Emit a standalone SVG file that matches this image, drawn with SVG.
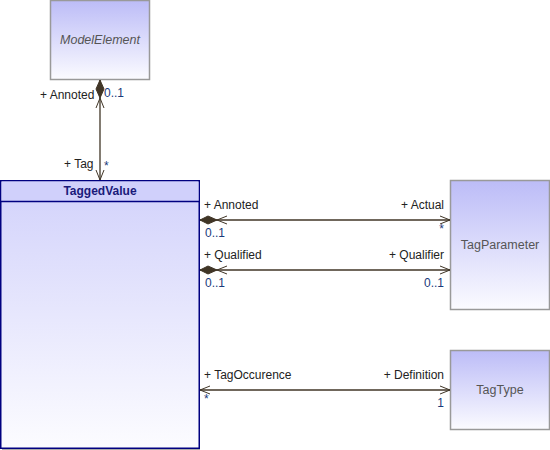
<svg xmlns="http://www.w3.org/2000/svg" width="550" height="450" viewBox="0 0 550 450">
<defs>
<linearGradient id="g1" x1="0" y1="0" x2="0" y2="1"><stop offset="0" stop-color="#bcbcf7"/><stop offset="1" stop-color="#fbfbff"/></linearGradient>
<linearGradient id="g2" x1="0" y1="0" x2="0" y2="1"><stop offset="0" stop-color="#d2d2fb"/><stop offset="1" stop-color="#fcfcff"/></linearGradient>
<style>
.cls{stroke:#999;stroke-width:1.5;fill:url(#g1)}
.nm{font-family:"Liberation Sans",Arial,sans-serif;font-size:12.5px;fill:#555;text-anchor:middle}
.role{font-family:"Liberation Sans",Arial,sans-serif;font-size:12px;fill:#222}
.mul{font-family:"Liberation Sans",Arial,sans-serif;font-size:12px;fill:#1a3a7a}
.ln{stroke:#403526;stroke-width:1.3;fill:none}
.dm{fill:#403526;stroke:#403526}
.ar{stroke:#403526;stroke-width:1;fill:none}
</style>
</defs>
<g id="ModelElement">
<rect class="cls" x="50.5" y="0.5" width="99" height="79"/>
<text class="nm" x="100" y="44" font-style="italic">ModelElement</text>
</g>
<g id="TaggedValue">
<rect x="2" y="448" width="198" height="2" fill="#aaa"/>
<rect x="0.75" y="180.75" width="198.5" height="267.5" fill="url(#g2)" stroke="#000080" stroke-width="1.5"/>
<rect x="1.5" y="181.5" width="197" height="20" fill="#d0d0fb"/>
<line x1="0" y1="201.5" x2="200" y2="201.5" stroke="#000080" stroke-width="1.3"/>
<text x="100" y="195" text-anchor="middle" font-family="'Liberation Sans',Arial,sans-serif" font-size="12" font-weight="bold" fill="#1a1a7a">TaggedValue</text>
</g>
<g id="TagParameter">
<rect class="cls" x="450.5" y="180.5" width="99" height="129"/>
<text class="nm" x="500" y="249">TagParameter</text>
</g>
<g id="TagType">
<rect class="cls" x="450.5" y="350.5" width="99" height="79"/>
<text class="nm" x="500" y="394">TagType</text>
</g>
<g id="connectors">
<line class="ln" x1="100" y1="80" x2="100" y2="180"/>
<path class="dm" d="M100,80 L104,89 L100,98 L96,89 Z"/>
<path class="ar" d="M96,108 L100,98 L104,108"/>
<path class="ar" d="M96,170 L100,180 L104,170"/>
<text class="role" x="40" y="99">+ Annoted</text>
<text class="mul" x="104" y="97">0..1</text>
<text class="role" x="64" y="168">+ Tag</text>
<text class="mul" x="104" y="170">*</text>

<line class="ln" x1="200" y1="220" x2="450" y2="220"/>
<path class="dm" d="M200,220 L208,216 L217,220 L208,224 Z"/>
<path class="ar" d="M227,216 L217,220 L227,224"/>
<path class="ar" d="M440,216 L450,220 L440,224"/>
<text class="role" x="204" y="209">+ Annoted</text>
<text class="role" x="444" y="209" text-anchor="end">+ Actual</text>
<text class="mul" x="205" y="237">0..1</text>
<text class="mul" x="444" y="233" text-anchor="end">*</text>

<line class="ln" x1="200" y1="270" x2="450" y2="270"/>
<path class="dm" d="M200,270 L208,266 L217,270 L208,274 Z"/>
<path class="ar" d="M227,266 L217,270 L227,274"/>
<path class="ar" d="M440,266 L450,270 L440,274"/>
<text class="role" x="204" y="259">+ Qualified</text>
<text class="role" x="444" y="259" text-anchor="end">+ Qualifier</text>
<text class="mul" x="205" y="287">0..1</text>
<text class="mul" x="444" y="287" text-anchor="end">0..1</text>

<line class="ln" x1="200" y1="390" x2="450" y2="390"/>
<path class="ar" d="M210,386 L200,390 L210,394"/>
<path class="ar" d="M440,386 L450,390 L440,394"/>
<text class="role" x="204" y="379">+ TagOccurence</text>
<text class="role" x="444" y="379" text-anchor="end">+ Definition</text>
<text class="mul" x="204" y="403">*</text>
<text class="mul" x="444" y="407" text-anchor="end">1</text>
</g>
</svg>
